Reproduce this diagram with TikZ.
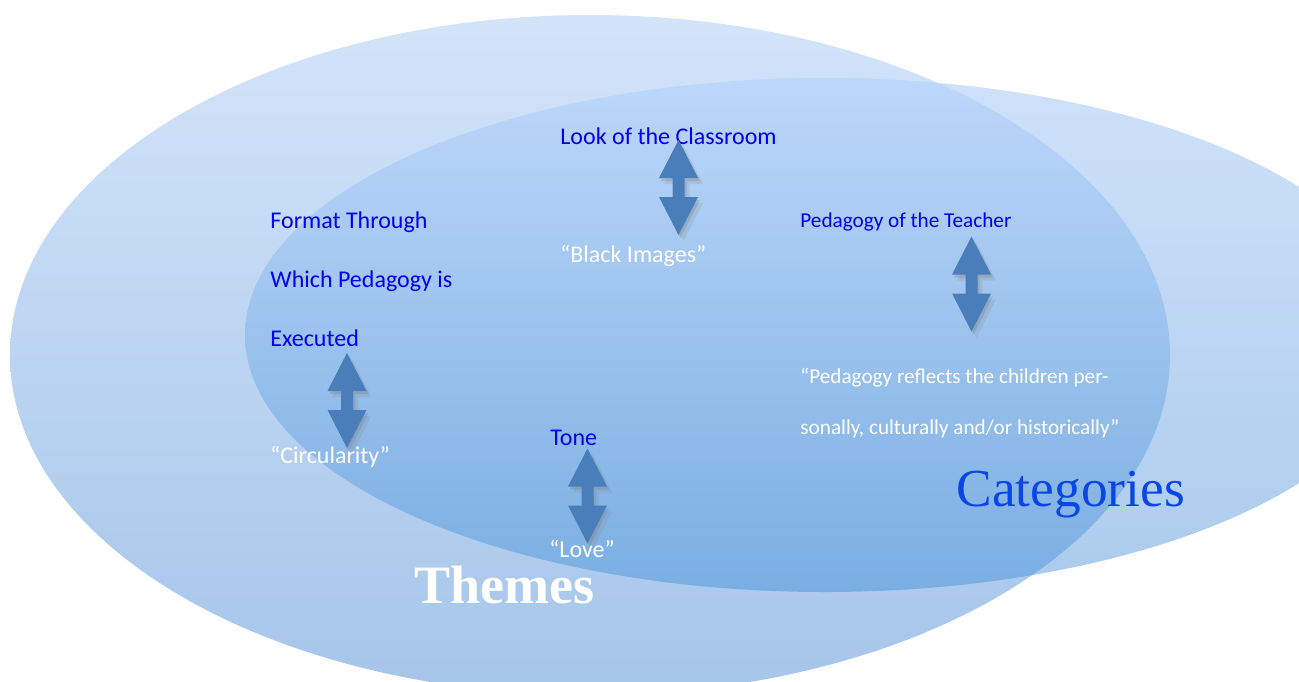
\documentclass[tikz,border=0pt]{standalone}
\usepackage{fontspec}
\setmainfont{Carlito}
\newfontfamily\headfont{Liberation Serif}
\usetikzlibrary{positioning,shadows}
\definecolor{themeTop}{HTML}{D3E4FA}
\definecolor{themeBot}{HTML}{A5C5E9}
\definecolor{catTop}{HTML}{CFE1FA}
\definecolor{catBot}{HTML}{ABCBEC}
\definecolor{bothTop}{HTML}{BCD7F9}
\definecolor{bothBot}{HTML}{7AAEE2}
\definecolor{arrowBlue}{HTML}{4A7EBB}
\definecolor{labelBlue}{HTML}{0000F0}
\definecolor{titleBlue}{HTML}{0A46E6}

\begin{document}
\begin{tikzpicture}[%
        x=0.5pt, y=-0.5pt,
        inner sep=0pt,
        blue label/.style={%
          anchor=base west,
          text=labelBlue,
          font=\fontsize{12}{14}\selectfont
        },
        quote label/.style={%
          anchor=base west,
          text=white,
          font=\fontsize{12}{14}\selectfont
        },
        smaller text/.style={font=\fontsize{10.6}{12}\selectfont},
        themes ell/.style={x radius=290pt, y radius=170pt},
        cats ell/.style={x radius=290pt, y radius=128.5pt},
        updown/.pic={%
          \path[fill=arrowBlue,
            drop shadow={shadow xshift=1pt, shadow yshift=-1.5pt, opacity=.3},
            drop shadow={shadow xshift=2.5pt, shadow yshift=-3pt, opacity=.18}]
            (0,-47.5) -- (19.5,-9.5) -- (6,-9.5) -- (6,9.5) -- (19.5,9.5)
            -- (0,47.5) -- (-19.5,9.5) -- (-6,9.5) -- (-6,-9.5) -- (-19.5,-9.5) -- cycle;
        }
      ]
      \useasboundingbox (0,0) rectangle (1299,681);
      \clip (0,0) rectangle (1299,681);

      % the two sets
      \coordinate (themes c) at (590,355);
      \coordinate (cats c) at (825,335);
      \shade[top color=themeTop, bottom color=themeBot] (themes c) ellipse [themes ell];
      \shade[top color=catTop, bottom color=catBot] (cats c) ellipse [cats ell];
      \begin{scope}
        \clip (themes c) ellipse [themes ell];
        \shade[top color=bothTop, bottom color=bothBot] (cats c) ellipse [cats ell];
      \end{scope}

      \node[blue label] (look) at (560,144) {Look of the Classroom};
      \node[quote label] (black) at (560,262) {“Black Images”};
      \node[blue label] (format) at (270,228) {Format Through};
      \node[blue label] (which) at (270,287) {Which Pedagogy is};
      \node[blue label] (exec) at (270,346) {Executed};
      \node[quote label] (circ) at (270,463) {“Circularity”};
      \node[blue label] (tone) at (550,445) {Tone};
      \node[quote label] (love) at (549,557) {“Love”};
      \node[blue label, smaller text] (teacher) at (800,227) {Pedagogy of the Teacher};
      \node[quote label, smaller text] (reflect1) at (800,383) {“Pedagogy reflects the children per-};
      \node[quote label, smaller text] (reflect2) at (800,434) {sonally, culturally and/or historically”};

      \pic at (678.5,187.5) {updown};
      \pic at (971.5,284) {updown};
      \pic at (347,400.5) {updown};
      \pic at (587.5,496) {updown};

      \node[anchor=base west, text=white,
        font=\headfont\bfseries\fontsize{27}{30}\selectfont] (themes) at (414,603) {Themes};
      \node[anchor=base west, text=titleBlue,
        font=\headfont\fontsize{26.7}{30}\selectfont] (cats) at (956,506) {Categories};
  \end{tikzpicture}
\end{document}
